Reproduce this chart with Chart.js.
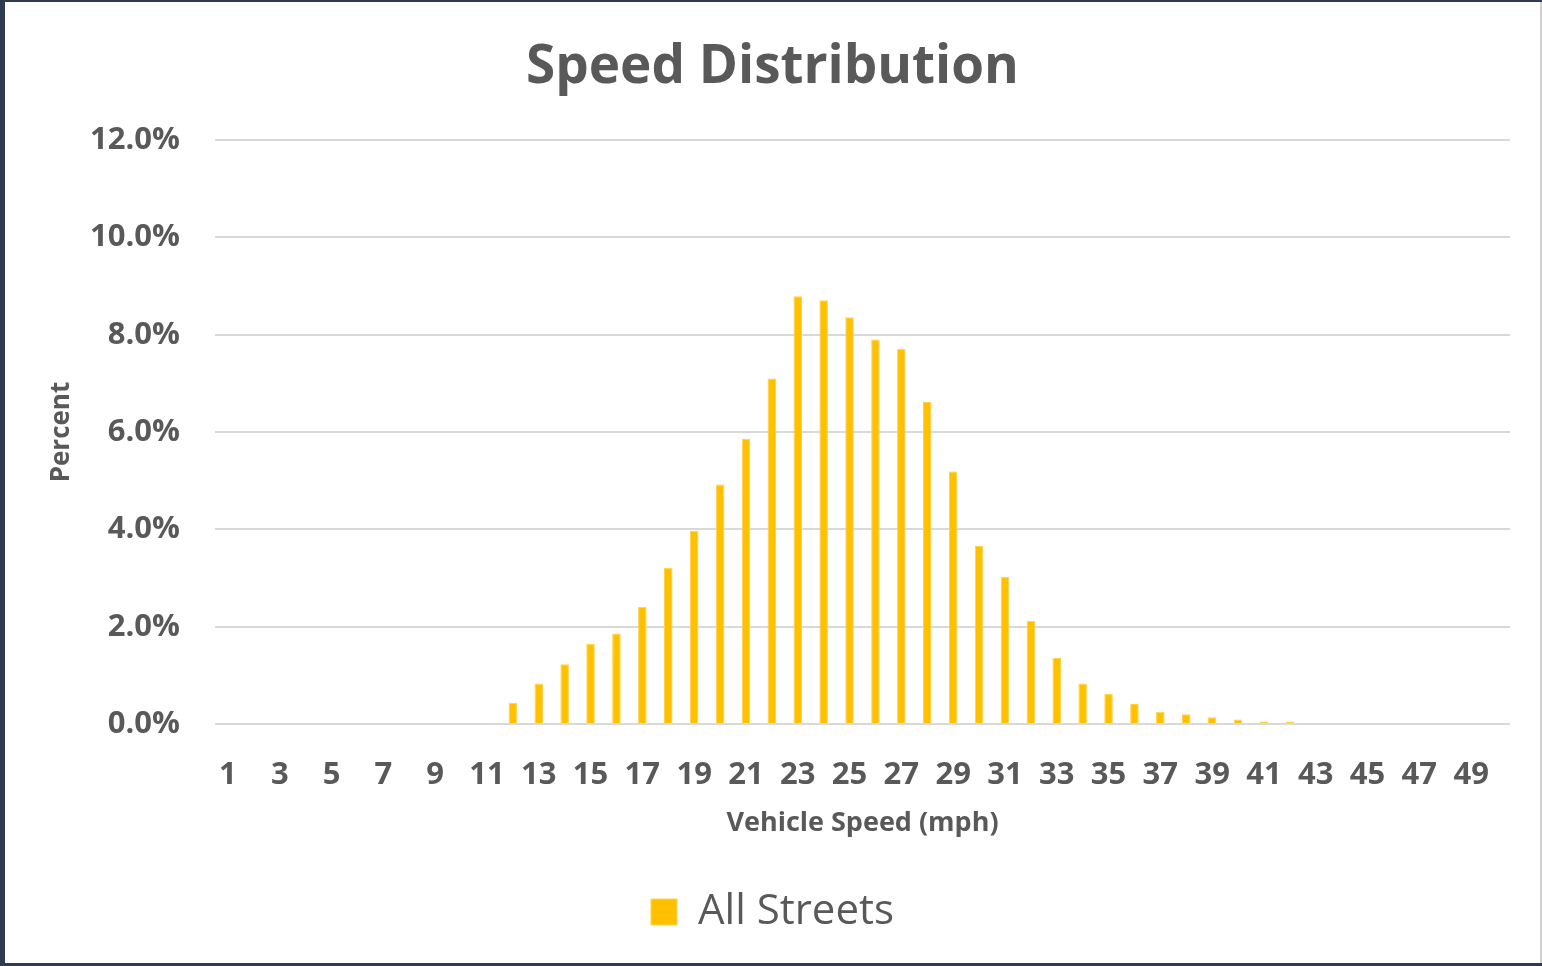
<!DOCTYPE html>
<html>
<head>
<meta charset="utf-8">
<script src="https://cdn.jsdelivr.net/npm/chart.js@4"></script>
<style>
  html, body { margin: 0; padding: 0; background: #2f3b4e; }
  #wrap { position: absolute; left: 5px; top: 2px; width: 1535px; height: 961px; background: #ffffff; border-right: 2px solid #d0d0d0; box-sizing: content-box; }
  canvas { display: block; }
</style>
</head>
<body>
<div id="wrap"><canvas id="c" width="1535" height="961"></canvas></div>
<script>
const titleText = 'Speed Distribution';
const seriesName = 'All Streets';
const xTitle = 'Vehicle Speed (mph)';
const yTitle = 'Percent';
const speeds = [1,2,3,4,5,6,7,8,9,10,11,12,13,14,15,16,17,18,19,20,21,22,23,24,25,26,27,28,29,30,31,32,33,34,35,36,37,38,39,40,41,42,43,44,45,46,47,48,49,50];
const percents = [0,0,0,0,0,0,0,0,0,0,0,0.43,0.83,1.23,1.65,1.86,2.41,3.21,3.97,4.92,5.86,7.10,8.79,8.71,8.36,7.90,7.71,6.62,5.19,3.66,3.02,2.12,1.36,0.83,0.62,0.41,0.25,0.20,0.14,0.09,0.05,0.05,0,0,0,0,0,0,0,0];
const yTicks = [0,2,4,6,8,10,12];

const textColor = '#595959';
const fam = '"Open Sans", "DejaVu Sans", sans-serif';

new Chart(document.getElementById('c'), {
  type: 'bar',
  data: {
    labels: speeds.map(String),
    datasets: [{
      label: seriesName,
      data: percents,
      backgroundColor: '#FFC000',
      borderColor: '#FFD24D',
      borderWidth: 1,
      barPercentage: 0.33,
      categoryPercentage: 1.0
    }]
  },
  options: {
    responsive: false,
    animation: false,
    layout: { padding: { top: 0, left: 0, right: 0, bottom: 20 } },
    plugins: {
      title: {
        display: true,
        text: titleText,
        color: textColor,
        font: { family: fam, size: 53, weight: 'bold', lineHeight: 1.2 },
        padding: { top: 34, bottom: 40.5 }
      },
      legend: {
        display: true,
        position: 'bottom',
        labels: {
          color: textColor,
          font: { family: fam, size: 42, weight: 'normal' },
          boxWidth: 26,
          boxHeight: 26,
          padding: 10
        }
      },
      tooltip: { enabled: false }
    },
    scales: {
      x: {
        grid: { display: false, drawTicks: false },
        border: { display: false },
        ticks: {
          color: textColor,
          font: { family: fam, size: 31, weight: 'bold' },
          autoSkip: false,
          maxRotation: 0,
          minRotation: 0,
          padding: 33,
          callback: function(v, i) { return i % 2 === 0 ? this.getLabelForValue(v) : ''; }
        },
        title: {
          display: true,
          text: xTitle,
          color: textColor,
          font: { family: fam, size: 27, weight: 'bold', lineHeight: 1.2 },
          padding: { top: 0, bottom: 41 }
        },
        afterFit: (s) => { s.height = 157; }
      },
      y: {
        min: 0,
        max: 12,
        afterBuildTicks: (s) => { s.ticks = yTicks.map(v => ({ value: v })); },
        grid: { color: '#d9d9d9', lineWidth: 2, drawTicks: false },
        border: { display: false },
        ticks: {
          color: textColor,
          font: { family: fam, size: 31, weight: 'bold' },
          padding: 35,
          callback: (v) => Number(v).toFixed(1) + '%'
        },
        title: {
          display: true,
          text: yTitle,
          color: textColor,
          font: { family: fam, size: 26, weight: 'bold', lineHeight: 1.2 },
          padding: { top: 41, bottom: 0 }
        },
        afterFit: (s) => { s.width = 210; }
      },
      yRight: {
        position: 'right',
        display: true,
        grid: { display: false, drawTicks: false },
        border: { display: false },
        ticks: { display: false },
        afterFit: (s) => { s.width = 30; }
      }
    }
  }
});
</script>
</body>
</html>
